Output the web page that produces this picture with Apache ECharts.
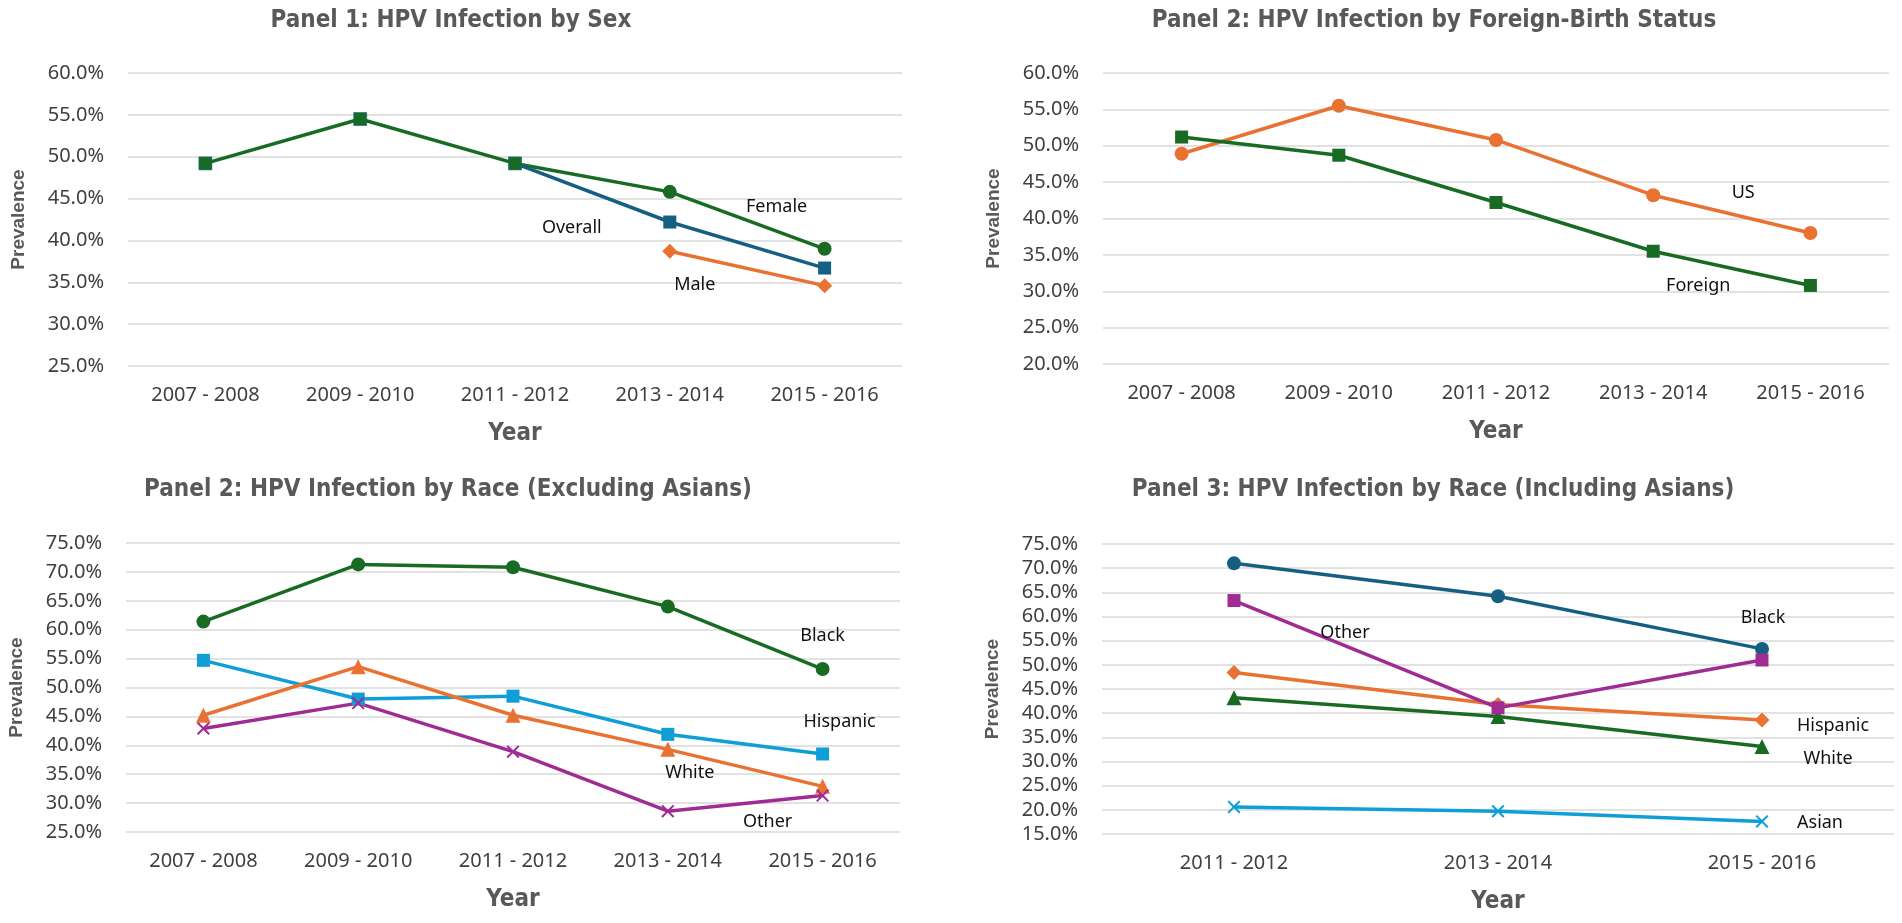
<!DOCTYPE html>
<html>
<head>
<meta charset="utf-8">
<title>HPV Infection Panels</title>
<script src="https://cdn.jsdelivr.net/npm/echarts@6/dist/echarts.min.js"></script>
<style>
  html, body { margin: 0; padding: 0; background: #fff; }
  #main { width: 1902px; height: 923px; }
</style>
</head>
<body>
<div id="main"></div>
<script>
// categories
var years5 = ['2007 - 2008', '2009 - 2010', '2011 - 2012', '2013 - 2014', '2015 - 2016'];
var years3 = ['2011 - 2012', '2013 - 2014', '2015 - 2016'];

// axis ranges [min, max, step] in percent
var range1 = [25, 60, 5];
var range2 = [20, 60, 5];
var range3 = [25, 75, 5];
var range4 = [15, 75, 5];

// Panel 1: by sex (percent)
var sexOverall = [49.2, 54.5, 49.2, 42.2, 36.7];
var sexFemale  = [null, null, 49.2, 45.8, 39.0];
var sexMale    = [null, null, null, 38.7, 34.6];

// Panel 2: by foreign-birth status
var bornUS      = [48.9, 55.5, 50.8, 43.2, 38.0];
var bornForeign = [51.2, 48.7, 42.2, 35.5, 30.8];

// Panel 3: by race, excluding Asians
var exBlack    = [61.4, 71.3, 70.8, 64.0, 53.2];
var exHispanic = [54.7, 48.0, 48.5, 41.9, 38.5];
var exWhite    = [45.2, 53.6, 45.2, 39.3, 32.9];
var exOther    = [42.9, 47.3, 38.9, 28.6, 31.3];

// Panel 4: by race, including Asians
var inBlack    = [71.0, 64.2, 53.3];
var inHispanic = [48.4, 41.8, 38.6];
var inWhite    = [43.2, 39.3, 33.1];
var inOther    = [63.3, 41.1, 51.0];
var inAsian    = [20.6, 19.7, 17.6];

// Office theme colours
var cBlue = '#156082', cOrange = '#E97132', cGreen = '#196B24', cLight = '#0F9ED5', cPurple = '#A02B93';
var xMark = 'path://M0,1.1 L1.1,0 L5,3.9 L8.9,0 L10,1.1 L6.1,5 L10,8.9 L8.9,10 L5,6.1 L1.1,10 L0,8.9 L3.9,5 Z';

var narrow = '"Liberation Sans Narrow", "DejaVu Sans Condensed", sans-serif';
var plain = '"Noto Sans", "Liberation Sans", sans-serif';

var myChart = echarts.init(document.getElementById('main'));

// series builder; lab = {at: index, dx, dy} puts the series name near one point
function line(name, data, color, symbol, size, idx, lab, noSymbolAt) {
    var items = data.map(function (v, i) {
        var it = { value: v };
        if (noSymbolAt != null && i === noSymbolAt) it.symbol = 'none';
        if (lab && i === lab.at) {
            it.label = {
                show: true, formatter: name, position: 'inside',
                offset: [lab.dx, lab.dy], color: '#111', fontSize: 18, fontFamily: plain
            };
        }
        return it;
    });
    return {
        name: name, type: 'line', xAxisIndex: idx, yAxisIndex: idx,
        data: items, symbol: symbol, symbolSize: size, showAllSymbol: true,
        connectNulls: false, animation: false,
        lineStyle: { color: color, width: 3.5 },
        itemStyle: { color: color },
        label: { show: false }
    };
}

var grids = [
    { left: 128, top: 73, width: 774, height: 293 },
    { left: 1103, top: 73, width: 786, height: 291 },
    { left: 126, top: 543, width: 774, height: 289 },
    { left: 1102, top: 544, width: 792, height: 290 }
];

function xAx(idx, cats) {
    return {
        gridIndex: idx, type: 'category', data: cats, boundaryGap: true,
        axisLine: { show: false }, axisTick: { show: false },
        axisLabel: { color: '#404040', fontSize: 20, fontFamily: plain, margin: 19 },
        name: 'Year', nameLocation: 'middle', nameGap: 56,
        nameTextStyle: { color: '#595959', fontSize: 24, fontWeight: 'bold', fontFamily: narrow }
    };
}
function yAx(idx, r) {
    return {
        gridIndex: idx, type: 'value', min: r[0], max: r[1], interval: r[2],
        axisLine: { show: false }, axisTick: { show: false },
        axisLabel: {
            color: '#404040', fontSize: 20, fontFamily: plain, margin: 24,
            formatter: function (v) { return v.toFixed(1) + '%'; }
        },
        splitLine: { lineStyle: { color: '#D9D9D9', width: 1.5 } },
        name: 'Prevalence', nameLocation: 'middle', nameGap: 100, nameRotate: 90,
        nameTextStyle: { color: '#595959', fontSize: 19, fontWeight: 'bold', fontFamily: '"Liberation Sans", Arial, sans-serif' }
    };
}

var titleStyle = { color: '#595959', fontSize: 24, fontWeight: 'bold', fontFamily: narrow };

// overall: green through 2011-2012, blue afterwards
var overall = line('Overall', sexOverall, cBlue, 'rect', 13, 0, { at: 3, dx: -98, dy: 6 });
overall.lineStyle.color = new echarts.graphic.LinearGradient(0, 0, 1, 0, [
    { offset: 0, color: cGreen }, { offset: 0.5, color: cGreen },
    { offset: 0.5, color: cBlue }, { offset: 1, color: cBlue }
]);
overall.data.forEach(function (it, i) {
    if (i <= 2) it.itemStyle = { color: cGreen, borderColor: cBlue, borderWidth: 0.6 };
});

var option = {
    backgroundColor: '#fff',
    animation: false,
    title: [
        { text: 'Panel 1: HPV Infection by Sex', left: 451, top: 9, textAlign: 'center', padding: 0, textStyle: titleStyle },
        { text: 'Panel 2: HPV Infection by Foreign-Birth Status', left: 1434, top: 9, textAlign: 'center', padding: 0, textStyle: titleStyle },
        { text: 'Panel 2: HPV Infection by Race (Excluding Asians)', left: 448, top: 478, textAlign: 'center', padding: 0, textStyle: titleStyle },
        { text: 'Panel 3: HPV Infection by Race (Including Asians)', left: 1433, top: 478, textAlign: 'center', padding: 0, textStyle: titleStyle }
    ],
    grid: grids,
    xAxis: [xAx(0, years5), xAx(1, years5), xAx(2, years5), xAx(3, years3)],
    yAxis: [yAx(0, range1), yAx(1, range2), yAx(2, range3), yAx(3, range4)],
    series: [
        line('Male', sexMale, cOrange, 'diamond', 15, 0, { at: 3, dx: 25, dy: 34 }),
        line('Female', sexFemale, cGreen, 'circle', 14, 0, { at: 4, dx: -48, dy: -42 }, 2),
        overall,

        line('US', bornUS, cOrange, 'circle', 14, 1, { at: 3, dx: 90, dy: -2 }),
        line('Foreign', bornForeign, cGreen, 'rect', 13, 1, { at: 3, dx: 45, dy: 35 }),

        line('Black', exBlack, cGreen, 'circle', 14, 2, { at: 4, dx: 0, dy: -33 }),
        line('Hispanic', exHispanic, cLight, 'rect', 13, 2, { at: 4, dx: 17, dy: -32 }),
        line('White', exWhite, cOrange, 'triangle', 15, 2, { at: 3, dx: 22, dy: 24 }),
        line('Other', exOther, cPurple, xMark, 13, 2, { at: 4, dx: -55, dy: 26 }),

        line('Black', inBlack, cBlue, 'circle', 14, 3, { at: 2, dx: 1, dy: -31 }),
        line('Hispanic', inHispanic, cOrange, 'diamond', 15, 3, { at: 2, dx: 71, dy: 6 }),
        line('White', inWhite, cGreen, 'triangle', 15, 3, { at: 2, dx: 66, dy: 12 }),
        line('Asian', inAsian, cLight, xMark, 13, 3, { at: 2, dx: 58, dy: 1 }),
        line('Other', inOther, cPurple, 'rect', 13, 3, { at: 0, dx: 111, dy: 32 })
    ]
};

myChart.setOption(option);
</script>
</body>
</html>
